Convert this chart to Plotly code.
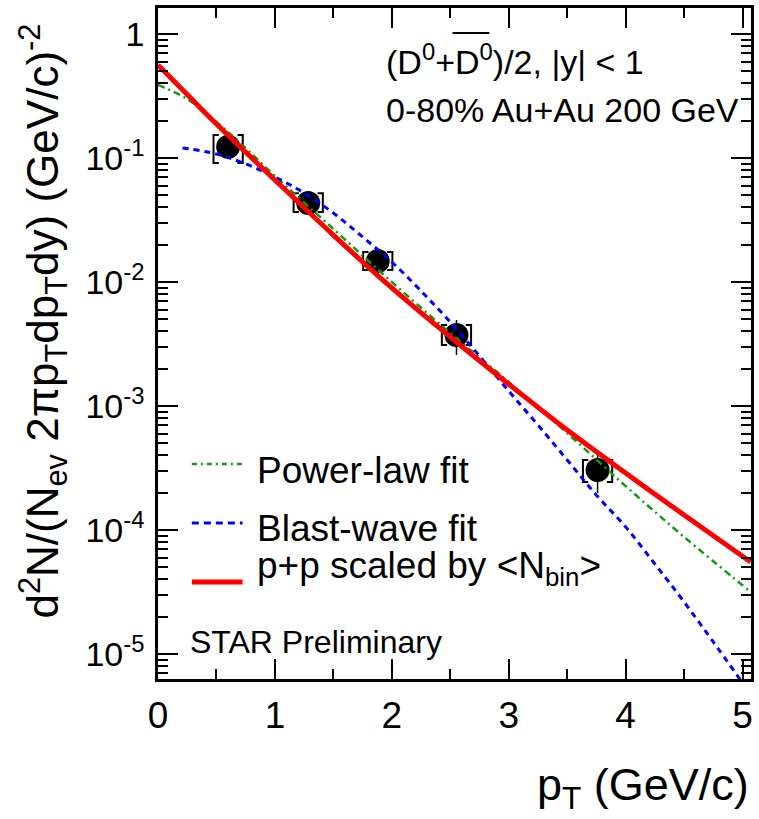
import plotly.graph_objects as go

# ---------------- data ----------------
pt = [0.60, 1.285, 1.88, 2.553, 3.76]
yld = [0.123, 0.0434, 0.01476, 0.00374, 3.05e-4]
stat_hi = [0.150, 0.0520, 0.0188, 0.00494, 4.18e-4]
stat_lo = [0.099, 0.0362, 0.0108, 0.00258, 1.99e-4]
sys_hi = [0.153, 0.0520, 0.01746, 0.0045, 3.67e-4]
sys_lo = [0.091, 0.0367, 0.0125, 0.0031, 2.44e-4]

pp_pt = [0.0, 0.25, 0.5, 1.0, 1.5, 2.0, 2.5, 3.0, 3.5, 4.0, 4.5, 5.07]
pp_y = [0.562, 0.325, 0.188, 0.0665, 0.0239, 0.00895, 0.00360, 0.00150,
        6.40e-4, 2.88e-4, 1.32e-4, 5.52e-5]

pl_pt = [0.0, 0.25, 0.5, 0.75, 1.0, 1.5, 2.0, 2.5, 3.0, 3.5, 4.0, 4.5, 5.07]
pl_y = [0.388, 0.299, 0.195, 0.120, 0.0716, 0.0268, 0.0100, 0.00388,
        0.00156, 6.05e-4, 2.26e-4, 8.79e-5, 3.16e-5]

bw_pt = [0.21, 0.5, 0.75, 1.0, 1.25, 1.5, 1.75, 2.0, 2.25, 2.5, 2.75, 3.0,
         3.25, 3.5, 3.75, 4.0, 4.25, 4.5, 4.75, 5.0]
bw_y = [0.1205, 0.1077, 0.0895, 0.0703, 0.0522, 0.0360, 0.0231, 0.0145,
        0.00846, 0.00476, 0.00253, 0.00132, 7.03e-4, 3.67e-4, 1.91e-4,
        1.06e-4, 5.32e-5, 2.63e-5, 1.25e-5, 5.84e-6]

x_ticks = [0, 1, 2, 3, 4, 5]
x_ticktext = ["0", "1", "2", "3", "4", "5"]
y_ticks = [1, 1e-1, 1e-2, 1e-3, 1e-4, 1e-5]
y_ticktext = ["1", "10<sup>-1</sup>", "10<sup>-2</sup>", "10<sup>-3</sup>",
              "10<sup>-4</sup>", "10<sup>-5</sup>"]

legend_labels = ["Power-law fit", "Blast-wave fit",
                 "p+p scaled by &lt;N<sub>bin</sub>&gt;"]

# ---------------- layout geometry (pixels) ----------------
W, H = 759, 819
X0, X1, Y0, Y1 = 158, 754, 8, 679
FONT = "Liberation Sans, Arial, sans-serif"


def px(x):
    return (x - X0) / (X1 - X0)


def py(y):
    return (Y1 - y) / (Y1 - Y0)


# systematic brackets built from the data arrays
bw_half, arm = 0.125, 0.045
bx, byy = [], []
for x, lo, hi in zip(pt, sys_lo, sys_hi):
    bx += [x - bw_half + arm, x - bw_half, x - bw_half, x - bw_half + arm, None]
    byy += [hi, hi, lo, lo, None]
    bx += [x + bw_half - arm, x + bw_half, x + bw_half, x + bw_half - arm, None]
    byy += [hi, hi, lo, lo, None]

fig = go.Figure()

fig.add_trace(go.Scatter(
    x=bx, y=byy, mode="lines", line=dict(color="black", width=2),
    hoverinfo="skip", showlegend=False))

fig.add_trace(go.Scatter(
    x=pt, y=yld, mode="markers",
    marker=dict(color="black", size=24, symbol="circle"),
    error_y=dict(type="data", symmetric=False,
                 array=[h - v for h, v in zip(stat_hi, yld)],
                 arrayminus=[v - l for v, l in zip(yld, stat_lo)],
                 color="black", thickness=1.5, width=0),
    showlegend=False))

fig.add_trace(go.Scatter(
    x=pl_pt, y=pl_y, mode="lines", line_shape="spline",
    line=dict(color="#119911", width=2.5, dash="7px,4px,2px,4px"),
    showlegend=False))

fig.add_trace(go.Scatter(
    x=bw_pt, y=bw_y, mode="lines", line_shape="spline",
    line=dict(color="#0000ff", width=3, dash="6px,5px"),
    showlegend=False))

fig.add_trace(go.Scatter(
    x=pp_pt, y=pp_y, mode="lines", line_shape="spline",
    line=dict(color="#ff0000", width=5),
    showlegend=False))

# minor ticks for log axis
minor_y = [m * 10.0 ** e for e in range(-6, 1) for m in range(2, 10)]

fig.update_layout(
    width=W, height=H,
    margin=dict(l=X0, r=W - X1, t=Y0, b=H - Y1),
    paper_bgcolor="white", plot_bgcolor="white",
    font=dict(family=FONT, color="black"),
    showlegend=False,
    xaxis=dict(
        range=[0, (X1 - X0) / 117.5],
        tickmode="array", tickvals=x_ticks, ticktext=x_ticktext,
        ticks="inside", ticklen=20, tickwidth=1.5, tickcolor="black",
        showline=True, linecolor="black", linewidth=2.5, mirror="ticks",
        showgrid=False, zeroline=False,
        tickfont=dict(size=37, family=FONT),
        ticklabelstandoff=2,
        minor=dict(ticks="inside", ticklen=10, tickwidth=1.5,
                   tickcolor="black", dtick=0.5, showgrid=False),
    ),
    yaxis=dict(
        type="log", range=[-5.2016, 0.2097],
        tickmode="array", tickvals=y_ticks, ticktext=y_ticktext,
        ticks="inside", ticklen=20, tickwidth=1.5, tickcolor="black",
        showline=True, linecolor="black", linewidth=2.5, mirror="ticks",
        showgrid=False, zeroline=False,
        tickfont=dict(size=34, family=FONT),
        ticklabelstandoff=4,
        minor=dict(ticks="inside", ticklen=10, tickwidth=1.5,
                   tickcolor="black", tickmode="array", tickvals=minor_y,
                   showgrid=False),
    ),
)

ann = []
ann.append(dict(text="(D<sup>0</sup>+D<sup>0</sup>)/2, |y| &lt; 1",
                x=px(385), y=py(60), xanchor="left", yanchor="middle",
                font=dict(size=34)))
ann.append(dict(text="0-80% Au+Au 200 GeV",
                x=px(385), y=py(110), xanchor="left", yanchor="middle",
                font=dict(size=34)))
ann.append(dict(text="STAR Preliminary",
                x=px(188), y=py(642), xanchor="left", yanchor="middle",
                font=dict(size=32)))
leg_y = [470, 528, 568]
for lab, yy in zip(legend_labels, leg_y):
    ann.append(dict(text=lab, x=px(255), y=py(yy), xanchor="left",
                    yanchor="middle", font=dict(size=37)))
ann.append(dict(text="p<sub>T</sub> (GeV/c)", x=1.0, y=py(788),
                xanchor="right", yanchor="middle", font=dict(size=45)))
ann.append(dict(text="d<sup>2</sup>N/(N<sub>ev</sub> 2πp<sub>T</sub>dp<sub>T</sub>dy) (GeV/c)<sup>-2</sup>",
                x=px(42), y=py(321), xanchor="center", yanchor="middle",
                textangle=-90, font=dict(size=44)))
for a in ann:
    a.update(xref="paper", yref="paper", showarrow=False)
fig.update_layout(annotations=ann)

shapes = [
    dict(type="line", x0=px(454), x1=px(491), y0=py(33), y1=py(33),
         line=dict(color="black", width=2)),
    dict(type="line", x0=px(192), x1=px(243), y0=py(464), y1=py(464),
         line=dict(color="#119911", width=2.5, dash="5px,4px,2px,4px")),
    dict(type="line", x0=px(192), x1=px(243), y0=py(523), y1=py(523),
         line=dict(color="#0000ff", width=3, dash="7px,5px")),
    dict(type="line", x0=px(192), x1=px(243), y0=py(582), y1=py(582),
         line=dict(color="#ff0000", width=5)),
]
for s in shapes:
    s.update(xref="paper", yref="paper")
fig.update_layout(shapes=shapes)

fig.write_html("out.html")
